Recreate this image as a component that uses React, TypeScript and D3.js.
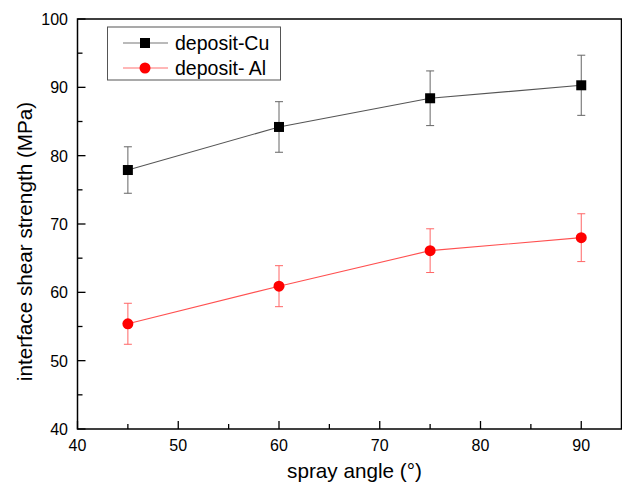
import React from "react";
import * as d3 from "d3";

const angles = [45, 60, 75, 90];
const cuValues = [77.9, 84.2, 88.4, 90.3];
const cuErrors = [3.4, 3.7, 4.0, 4.4];
const alValues = [55.4, 60.9, 66.1, 68.0];
const alErrors = [3.0, 3.0, 3.2, 3.5];
const xTicks = [40, 50, 60, 70, 80, 90];
const yTicks = [40, 50, 60, 70, 80, 90, 100];
const seriesNames = ["deposit-Cu", "deposit- Al"];

const W = 622, H = 486;
const L = 77.5, R = 621.5, T = 19, B = 429;

export default function App() {
  const x = d3.scaleLinear().domain([40, 94]).range([L, L + 54 * 10.075]);
  const y = d3.scaleLinear().domain([40, 100]).range([B, T]);
  const line = d3.line<[number, number]>().x(d => x(d[0])).y(d => y(d[1]));
  const cu = angles.map((a, i) => [a, cuValues[i]] as [number, number]);
  const al = angles.map((a, i) => [a, alValues[i]] as [number, number]);
  const xMinor = d3.range(45, 94, 10);
  const yMinor = d3.range(45, 100, 10);
  const font = "Arial, 'Liberation Sans', sans-serif";
  const errBars = (vals: number[], errs: number[], color: string) =>
    angles.map((a, i) => {
      const cx = x(a);
      const y1 = y(vals[i] + errs[i]);
      const y2 = y(vals[i] - errs[i]);
      return (
        <g key={i} stroke={color} strokeWidth={1}>
          <line x1={cx} x2={cx} y1={y1} y2={y2} />
          <line x1={cx - 4} x2={cx + 4} y1={y1} y2={y1} />
          <line x1={cx - 4} x2={cx + 4} y1={y2} y2={y2} />
        </g>
      );
    });
  return (
    <svg width={W} height={H} style={{ position: "absolute", left: 0, top: 0, background: "#fff" }} fontFamily={font}>
      <rect x={0} y={0} width={W} height={H} fill="#fff" />
      {/* frame */}
      <rect x={L} y={T} width={R - L} height={B - T} fill="none" stroke="#000" strokeWidth={1.5} />
      {/* x ticks */}
      {xTicks.map(t => (
        <g key={"xt" + t}>
          <line x1={x(t)} x2={x(t)} y1={B} y2={B - 8} stroke="#000" strokeWidth={1.3} />
          <text x={x(t)} y={B + 22} fontSize={16} textAnchor="middle" fill="#000">{t}</text>
        </g>
      ))}
      {xMinor.map(t => (
        <line key={"xm" + t} x1={x(t)} x2={x(t)} y1={B} y2={B - 5} stroke="#000" strokeWidth={1.3} />
      ))}
      {yTicks.map(t => (
        <g key={"yt" + t}>
          <line x1={L} x2={L + 8} y1={y(t)} y2={y(t)} stroke="#000" strokeWidth={1.3} />
          <text x={L - 9.5} y={y(t) + 6} fontSize={16} textAnchor="end" fill="#000">{t}</text>
        </g>
      ))}
      {yMinor.map(t => (
        <line key={"ym" + t} x1={L} x2={L + 5} y1={y(t)} y2={y(t)} stroke="#000" strokeWidth={1.3} />
      ))}
      {/* axis titles */}
      <text x={354.5} y={478} fontSize={20.7} textAnchor="middle" fill="#000">spray angle (°)</text>
      <text transform={`translate(32,241.5) rotate(-90)`} fontSize={20.7} textAnchor="middle" fill="#000">interface shear strength (MPa)</text>
      {/* series */}
      <path d={line(cu) || ""} fill="none" stroke="#555" strokeWidth={1.1} />
      <path d={line(al) || ""} fill="none" stroke="#ff5050" strokeWidth={1.1} />
      {errBars(cuValues, cuErrors, "#666")}
      {errBars(alValues, alErrors, "#ff6666")}
      {cu.map((d, i) => (
        <rect key={"cu" + i} x={x(d[0]) - 5} y={y(d[1]) - 5} width={10} height={10} fill="#000" />
      ))}
      {al.map((d, i) => (
        <circle key={"al" + i} cx={x(d[0])} cy={y(d[1])} r={5.5} fill="#ff0000" />
      ))}
      {/* legend */}
      <rect x={107.5} y={27} width={173} height={53} fill="#fff" stroke="#555" strokeWidth={1} />
      <line x1={123} x2={168} y1={43} y2={43} stroke="#777" strokeWidth={1.1} />
      <rect x={140} y={38} width={10} height={10} fill="#000" />
      <text x={175} y={50} fontSize={19.5} fill="#000">{seriesNames[0]}</text>
      <line x1={123} x2={168} y1={68} y2={68} stroke="#ff7070" strokeWidth={1.1} />
      <circle cx={145} cy={68} r={5.5} fill="#ff0000" />
      <text x={175} y={75} fontSize={19.5} fill="#000">{seriesNames[1]}</text>
    </svg>
  );
}
